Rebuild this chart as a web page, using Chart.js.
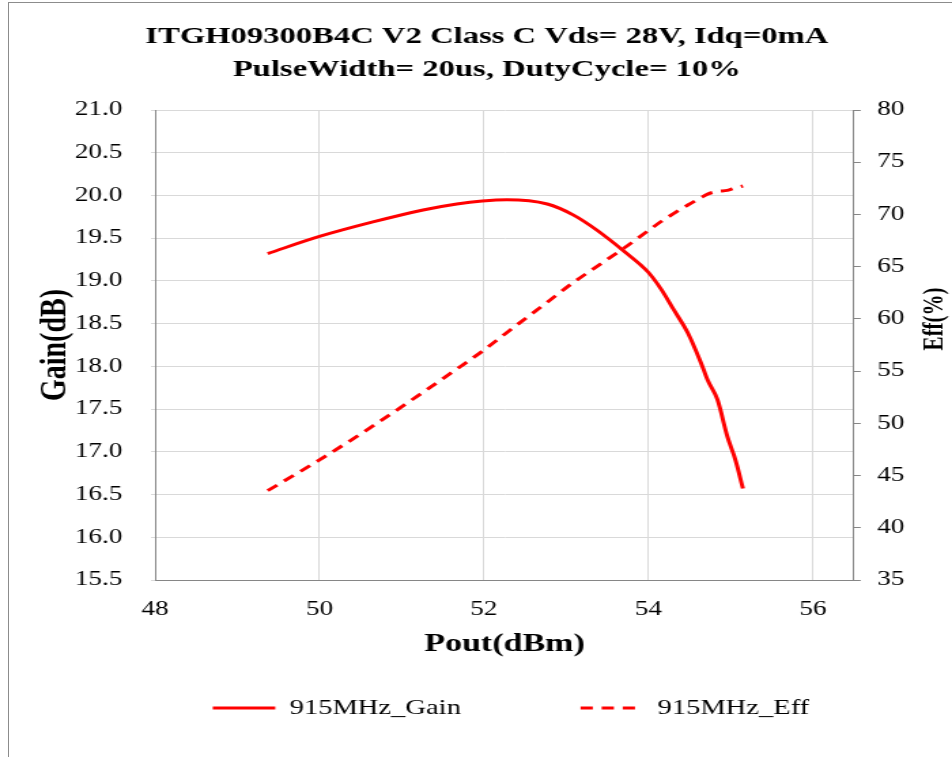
<!DOCTYPE html>
<html>
<head>
<meta charset="utf-8">
<title>ITGH09300B4C V2 Gain / Eff vs Pout</title>
<script src="https://cdn.jsdelivr.net/npm/chart.js@4.4.1/dist/chart.umd.min.js"></script>
<style>
  html, body { margin: 0; padding: 0; background: #fff; overflow: hidden; }
  #frame { position: absolute; left: 8px; top: 2px; width: 980px; height: 800px;
           border-left: 1px solid #8c8c8c; border-top: 1px solid #8c8c8c; }
  /* the original export is stretched sideways, so draw narrow and scale it back out */
  #wrap { position: absolute; left: 0; top: 0; width: 700px; height: 757px;
          transform: scaleX(1.36); transform-origin: 0 0; }
</style>
</head>
<body>
<div id="frame"></div>
<div id="wrap"><canvas id="chart" width="700" height="757" style="width:700px;height:757px"></canvas></div>
<script>
// data
const pout = [49.37, 50.00, 50.65, 51.26, 51.67, 51.98, 52.28, 52.77, 53.09, 53.38, 53.70,
              53.99, 54.15, 54.31, 54.48, 54.64, 54.72, 54.84, 54.96, 55.06, 55.15];
const gain = [19.32, 19.52, 19.69, 19.83, 19.90, 19.935, 19.95, 19.90, 19.77, 19.59, 19.35,
              19.11, 18.91, 18.66, 18.39, 18.04, 17.84, 17.61, 17.18, 16.90, 16.57];
const eff = [43.55, 46.5, 49.75, 52.98, 55.2, 56.9, 58.7, 61.6, 63.5, 65.05, 66.76,
             68.4, 69.3, 70.1, 70.9, 71.6, 71.95, 72.2, 72.3, 72.55, 72.72];

const poutTicks = [48, 50, 52, 54, 56];
const gainTicks = [15.5, 16.0, 16.5, 17.0, 17.5, 18.0, 18.5, 19.0, 19.5, 20.0, 20.5, 21.0];
const effTicks = [35, 40, 45, 50, 55, 60, 65, 70, 75, 80];

const seriesNames = ['915MHz_Gain', '915MHz_Eff'];
const seriesDash = [[], [9, 6.5]];
const titleLines = ['ITGH09300B4C V2 Class C Vds= 28V, Idq=0mA', 'PulseWidth= 20us, DutyCycle= 10%'];

// layout, in canvas px (horizontal values are before the 1.36 stretch)
const LEGEND_MID = 708;
const LEGEND_GAP = 88;
const LEGEND_FONT = 21;
const LEGEND_SHIFT = 17.7;

Chart.defaults.font.family = '"Liberation Serif", "Times New Roman", serif';
Chart.defaults.color = '#000';

// Excel spaces the two legend entries far apart; keep that gap but pull the row up
const legendPlace = {
    id: 'legendPlace',
    afterLayout(chart) {
        const lg = chart.legend;
        lg.top = LEGEND_MID - LEGEND_GAP - LEGEND_FONT / 2;
        lg.left += LEGEND_SHIFT;
        lg.right += LEGEND_SHIFT;
    }
};

// right axis title reads bottom-to-top like the left one
const effTitle = {
    id: 'effTitle',
    afterDraw(chart) {
        const ctx = chart.ctx;
        const y1 = chart.scales.y1;
        ctx.save();
        ctx.translate(y1.right - 12.5, y1.getPixelForValue(60));
        ctx.rotate(-Math.PI / 2);
        ctx.font = 'bold 21px "Liberation Serif", "Times New Roman", serif';
        ctx.fillStyle = '#000';
        ctx.textAlign = 'center';
        ctx.textBaseline = 'middle';
        ctx.fillText('Eff(%)', 0, 0);
        ctx.restore();
    }
};

const ctx = document.getElementById('chart').getContext('2d');

new Chart(ctx, {
    type: 'line',
    data: {
        datasets: [{
            label: seriesNames[0],
            data: pout.map((x, i) => ({ x: x, y: gain[i] })),
            yAxisID: 'y',
            borderColor: '#ff0000',
            backgroundColor: '#ff0000',
            borderWidth: 3,
            borderDash: seriesDash[0],
            pointRadius: 0,
            cubicInterpolationMode: 'monotone',
            fill: false
        }, {
            label: seriesNames[1],
            data: pout.map((x, i) => ({ x: x, y: eff[i] })),
            yAxisID: 'y1',
            borderColor: '#ff0000',
            backgroundColor: '#ff0000',
            borderWidth: 3,
            borderDash: seriesDash[1],
            pointRadius: 0,
            cubicInterpolationMode: 'monotone',
            fill: false
        }]
    },
    options: {
        responsive: false,
        animation: false,
        layout: { padding: { left: 16, right: 0, top: 0, bottom: 0 } },
        scales: {
            x: {
                type: 'linear',
                min: 48,
                max: 56.5,
                afterBuildTicks: s => { s.ticks = poutTicks.map(v => ({ value: v })); },
                afterFit: s => { s.height = 137; },
                grid: { color: '#d9d9d9', drawTicks: false },
                border: { color: '#868686' },
                ticks: { padding: 18, font: { size: 20 }, maxRotation: 0 },
                title: {
                    display: true,
                    text: 'Pout(dBm)',
                    font: { size: 25, weight: 'bold' },
                    padding: { top: 0, bottom: 57 }
                }
            },
            y: {
                position: 'left',
                min: 15.5,
                max: 21,
                afterBuildTicks: s => { s.ticks = gainTicks.map(v => ({ value: v })); },
                afterFit: s => { s.width = 98; },
                grid: { color: '#d9d9d9', tickLength: 3 },
                border: { color: '#868686' },
                ticks: { padding: 21, font: { size: 20 }, callback: v => v.toFixed(1) },
                title: {
                    display: true,
                    text: 'Gain(dB)',
                    font: { size: 28, weight: 'bold' },
                    padding: { top: 7.6, bottom: 0 }
                }
            },
            y1: {
                position: 'right',
                min: 35,
                max: 80,
                afterBuildTicks: s => { s.ticks = effTicks.map(v => ({ value: v })); },
                afterFit: s => { s.width = 72.1; },
                grid: { drawOnChartArea: false, tickLength: 5, tickColor: '#868686' },
                border: { color: '#868686' },
                ticks: { padding: 12, font: { size: 20 } }
            }
        },
        plugins: {
            title: {
                display: true,
                text: titleLines,
                font: { size: 24, weight: 'bold', lineHeight: 1.375 },
                padding: { top: 20.5, bottom: 23.5 }
            },
            legend: {
                position: 'bottom',
                maxHeight: 40,
                labels: {
                    usePointStyle: true,
                    pointStyle: 'line',
                    pointStyleWidth: 46,
                    padding: LEGEND_GAP,
                    font: { size: LEGEND_FONT },
                    // point style loses the dataset dash, so put it back on the sample line
                    generateLabels: chart => Chart.defaults.plugins.legend.labels.generateLabels(chart)
                        .map((item, i) => Object.assign(item, {
                            lineDash: seriesDash[i],
                            lineWidth: 3,
                            strokeStyle: '#ff0000'
                        }))
                }
            },
            tooltip: { enabled: false }
        }
    },
    plugins: [legendPlace, effTitle]
});
</script>
</body>
</html>
